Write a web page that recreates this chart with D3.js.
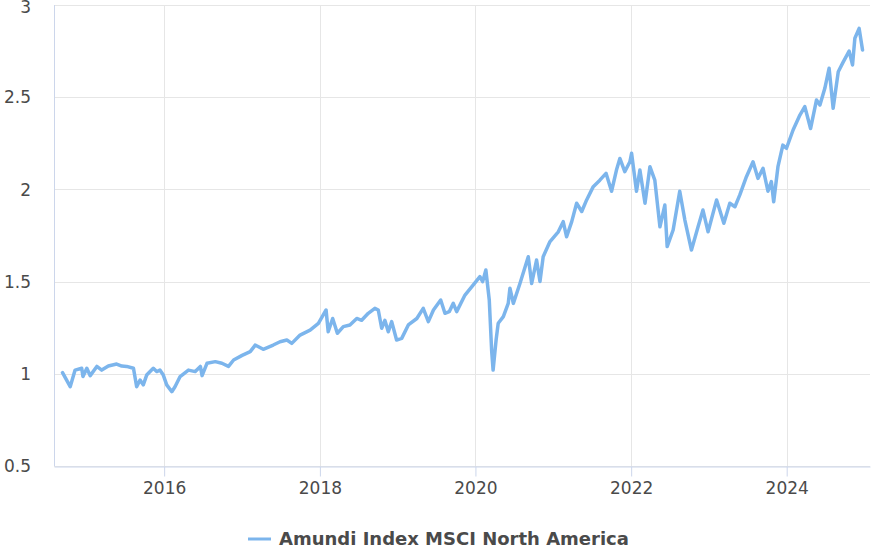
<!DOCTYPE html>
<html>
<head>
<meta charset="utf-8">
<script src="https://cdn.jsdelivr.net/npm/d3@7"></script>
<style>
  body { margin: 0; background: #fff; }
  svg { display: block; font-family: "DejaVu Sans", sans-serif; }
</style>
</head>
<body>
<script>
// Height, width, margins
var w = 871;
var h = 548;
var margin = { top: 5, right: 1, bottom: 82, left: 54 };

var seriesName = "Amundi Index MSCI North America";

// Dates and values
var dates = [
  "2014-09-11", "2014-10-17", "2014-11-09", "2014-12-10", "2014-12-16", "2015-01-03",
  "2015-01-19", "2015-02-19", "2015-03-14", "2015-04-14", "2015-05-23", "2015-06-16",
  "2015-07-09", "2015-08-10", "2015-08-25", "2015-09-10", "2015-09-25", "2015-10-11",
  "2015-11-11", "2015-11-27", "2015-12-12", "2015-12-28", "2016-01-13", "2016-02-06",
  "2016-02-21", "2016-03-16", "2016-04-24", "2016-05-26", "2016-06-19", "2016-06-27",
  "2016-07-20", "2016-08-28", "2016-09-28", "2016-10-29", "2016-11-22", "2017-01-01",
  "2017-02-08", "2017-02-28", "2017-03-03", "2017-04-10", "2017-05-27", "2017-06-28",
  "2017-07-30", "2017-08-22", "2017-09-30", "2017-11-16", "2017-12-25", "2018-01-30",
  "2018-02-09", "2018-03-02", "2018-03-24", "2018-04-21", "2018-05-22", "2018-06-23",
  "2018-07-16", "2018-08-16", "2018-09-16", "2018-10-02", "2018-10-18", "2018-11-02",
  "2018-11-18", "2018-12-04", "2018-12-27", "2019-01-20", "2019-02-20", "2019-04-01",
  "2019-05-01", "2019-05-25", "2019-06-18", "2019-07-22", "2019-08-11", "2019-08-31",
  "2019-09-19", "2019-10-05", "2019-11-13", "2019-12-22", "2020-01-22", "2020-02-04",
  "2020-02-19", "2020-03-06", "2020-03-17", "2020-03-24", "2020-04-07", "2020-04-17",
  "2020-05-11", "2020-06-03", "2020-06-11", "2020-06-27", "2020-07-28", "2020-09-05",
  "2020-09-21", "2020-10-14", "2020-10-30", "2020-11-14", "2020-12-16", "2021-01-24",
  "2021-02-16", "2021-03-04", "2021-03-28", "2021-04-20", "2021-05-14", "2021-06-06",
  "2021-07-07", "2021-08-07", "2021-09-05", "2021-10-01", "2021-10-24", "2021-11-09",
  "2021-12-02", "2021-12-26", "2022-01-03", "2022-01-26", "2022-02-11", "2022-03-07",
  "2022-03-30", "2022-04-22", "2022-05-16", "2022-06-08", "2022-06-19", "2022-07-17",
  "2022-08-17", "2022-09-10", "2022-10-11", "2022-11-11", "2022-12-04", "2022-12-28",
  "2023-02-06", "2023-03-12", "2023-04-09", "2023-05-03", "2023-05-26", "2023-06-26",
  "2023-07-27", "2023-08-19", "2023-09-12", "2023-10-05", "2023-10-21", "2023-11-01",
  "2023-11-21", "2023-12-14", "2023-12-31", "2024-01-31", "2024-03-03", "2024-03-26",
  "2024-04-22", "2024-05-20", "2024-06-05", "2024-06-28", "2024-07-18", "2024-08-06",
  "2024-08-30", "2024-09-22", "2024-10-20", "2024-11-05", "2024-11-16", "2024-12-06",
  "2024-12-22"
];

var values = [
  1.006, 0.93, 1.02, 1.03, 0.985, 1.03,
  0.99, 1.04, 1.02, 1.042, 1.053, 1.042,
  1.04, 1.03, 0.93, 0.966, 0.94, 0.993,
  1.03, 1.012, 1.02, 0.993, 0.94, 0.903,
  0.93, 0.985, 1.02, 1.012, 1.04, 0.99,
  1.057, 1.066, 1.057, 1.04, 1.075, 1.10,
  1.12, 1.15, 1.156, 1.133, 1.156, 1.174,
  1.183, 1.165, 1.21, 1.237, 1.274, 1.346,
  1.228, 1.30, 1.22, 1.256, 1.265, 1.30,
  1.29, 1.328, 1.355, 1.346, 1.247, 1.29,
  1.228, 1.283, 1.183, 1.192, 1.265, 1.30,
  1.355, 1.283, 1.346, 1.40, 1.328, 1.337,
  1.382, 1.337, 1.427, 1.482, 1.527, 1.50,
  1.563, 1.40, 1.129, 1.02, 1.183, 1.274,
  1.31, 1.382, 1.464, 1.382, 1.49, 1.635,
  1.49, 1.617, 1.50, 1.635, 1.717, 1.77,
  1.825, 1.743, 1.825, 1.925, 1.88, 1.943,
  2.015, 2.05, 2.087, 1.99, 2.105, 2.168,
  2.096, 2.15, 2.196, 1.99, 2.105, 1.925,
  2.123, 2.05, 1.797, 1.915, 1.69, 1.78,
  1.99, 1.834, 1.671, 1.797, 1.888, 1.77,
  1.943, 1.816, 1.925, 1.906, 1.97, 2.069,
  2.15, 2.06, 2.114, 1.99, 2.042, 1.933,
  2.123, 2.24, 2.223, 2.322, 2.403, 2.449,
  2.33, 2.485, 2.458, 2.548, 2.657, 2.44,
  2.638, 2.69, 2.75, 2.675, 2.82, 2.873,
  2.756
];

var yTicks = [0.5, 1, 1.5, 2, 2.5, 3];
var yTickLabels = ["0.5", "1", "1.5", "2", "2.5", "3"];
var xTickYears = [2016, 2018, 2020, 2022, 2024];
var xDomain = ["2014-08-02", "2025-01-26"];

var parse = d3.timeParse("%Y-%m-%d");
var data = dates.map(function(d, i) {
  return { date: parse(d), value: values[i] };
});

// Construct Scales
var xScale = d3.scaleTime()
               .domain(xDomain.map(parse))
               .range([margin.left, w - margin.right]);

var yScale = d3.scaleLinear()
               .domain([0.5, 3])
               .range([h - margin.bottom, margin.top]);

// Create SVG Element
var svg = d3.select("body")
            .append("svg")
            .attr("width", w)
            .attr("height", h);

// Grid lines
svg.append("g")
   .selectAll("line")
   .data(yTicks)
   .enter()
   .append("line")
   .attr("x1", margin.left)
   .attr("x2", w - margin.right)
   .attr("y1", function(d) { return Math.round(yScale(d)) + 0.5; })
   .attr("y2", function(d) { return Math.round(yScale(d)) + 0.5; })
   .attr("stroke", "#e6e6e6")
   .attr("stroke-width", 1);

var xTickDates = xTickYears.map(function(y) { return new Date(y, 0, 1); });

svg.append("g")
   .selectAll("line")
   .data(xTickDates)
   .enter()
   .append("line")
   .attr("x1", function(d) { return Math.round(xScale(d)) + 0.5; })
   .attr("x2", function(d) { return Math.round(xScale(d)) + 0.5; })
   .attr("y1", margin.top)
   .attr("y2", h - margin.bottom)
   .attr("stroke", "#e6e6e6")
   .attr("stroke-width", 1);

// X axis
var xAxis = d3.axisBottom(xScale)
              .tickValues(xTickDates)
              .tickFormat(d3.timeFormat("%Y"))
              .tickSizeInner(10)
              .tickSizeOuter(0)
              .tickPadding(5);

var gx = svg.append("g")
   .attr("transform", "translate(0," + (Math.round(yScale(0.5)) + 0.5) + ")")
   .call(xAxis);
gx.select(".domain").attr("stroke", "#ccd6eb");
gx.selectAll(".tick line").attr("stroke", "#ccd6eb");
gx.selectAll("text")
  .attr("font-family", "DejaVu Sans, sans-serif")
  .attr("font-size", "17px")
  .attr("fill", "#4a4a4a");

// Y axis (left line + labels)
svg.append("line")
   .attr("x1", margin.left + 0.5)
   .attr("x2", margin.left + 0.5)
   .attr("y1", margin.top)
   .attr("y2", h - margin.bottom)
   .attr("stroke", "#ccd6eb");

svg.append("g")
   .selectAll("text")
   .data(yTicks)
   .enter()
   .append("text")
   .text(function(d, i) { return yTickLabels[i]; })
   .attr("x", 31)
   .attr("y", function(d) { return Math.max(yScale(d), 7); }) // keep the top label inside
   .attr("dy", "0.36em")
   .attr("text-anchor", "end")
   .attr("font-size", "17px")
   .attr("fill", "#4a4a4a");

// Series line
var line = d3.line()
             .x(function(d) { return xScale(d.date); })
             .y(function(d) { return yScale(d.value); });

svg.append("path")
   .datum(data)
   .attr("d", line)
   .attr("fill", "none")
   .attr("stroke", "#7cb5ec")
   .attr("stroke-width", 3.5)
   .attr("stroke-linejoin", "round")
   .attr("stroke-linecap", "round");

// Legend
var legend = svg.append("g").attr("transform", "translate(0,539)");
legend.append("line")
      .attr("x1", 248)
      .attr("x2", 271)
      .attr("stroke", "#7cb5ec")
      .attr("stroke-width", 3);
legend.append("text")
      .text(seriesName)
      .attr("x", 279)
      .attr("dy", "0.35em")
      .attr("font-size", "18px")
      .attr("font-weight", "bold")
      .attr("fill", "#4a4a4a");
</script>
</body>
</html>
